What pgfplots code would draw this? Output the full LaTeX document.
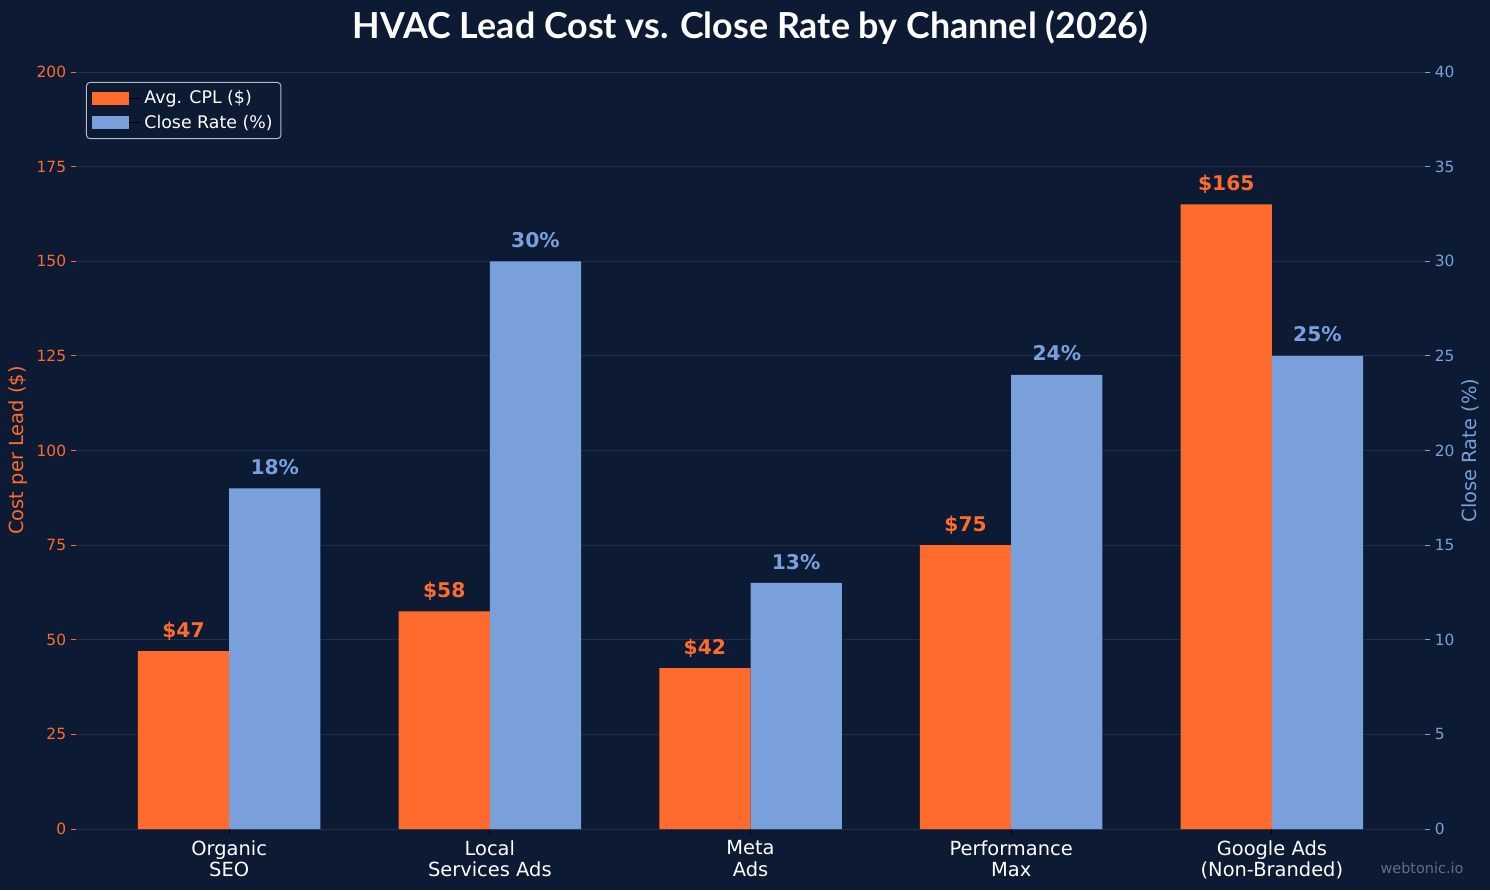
\documentclass[border=0pt]{standalone}
\usepackage{fontspec}
\setmainfont{DejaVu Sans}
\newfontfamily\latofont{Lato}
\usepackage{pgfplots}
\pgfplotsset{compat=1.18}
\definecolor{bg}{HTML}{0C1B33}
\definecolor{cpl}{HTML}{FF6B2C}
\definecolor{cr}{HTML}{79A0DB}
\definecolor{gridc}{HTML}{1F2F48}
\definecolor{legbord}{HTML}{B4BBC6}
\definecolor{wm}{HTML}{5E6E86}
\begin{document}
\begin{tikzpicture}
\fill[bg] (-54.72pt,-43.92pt) rectangle (1018.08pt,596.88pt);
\begin{axis}[
  scale only axis, width=971.28pt, height=545.04pt,
  xmin=-0.5875, xmax=4.5875, ymin=0, ymax=200,
  axis line style={draw=none},
  ybar, bar width=0.35, bar shift=0pt,
  ytick={0,25,...,200},
  xtick={0,1,2,3,4},
  xticklabels={{Organic\\SEO},{Local\\Services Ads},{Meta\\Ads},{Performance\\Max},{Google Ads\\(Non-Branded)}},
  xticklabel style={align=center, text=white, font=\fontsize{14}{15.6}\selectfont, yshift=-1pt},
  yticklabel style={text=cpl, font=\fontsize{11.1}{13}\selectfont},
  /pgf/number format/assume math mode=true,
  xtick pos=left, ytick pos=left,
  tick align=outside, major tick length=3.6pt,
  x tick style={black, line width=0.6pt},
  y tick style={cpl, line width=0.6pt},
  ymajorgrids, grid style={gridc, line width=0.7pt},
  ylabel={Cost per Lead (\$)},
  ylabel style={at={(axis description cs:-0.04304,0.5)}, anchor=center, text=cpl, font=\fontsize{14}{16}\selectfont},
  title={HVAC Lead Cost vs. Close Rate by Channel (2026)},
  title style={at={(axis description cs:0.5,1)}, anchor=base, yshift=17.8pt, text=white, font=\latofont\bfseries\fontsize{25.8}{30}\selectfont},
  legend style={at={(axis description cs:0,1)}, anchor=north west, xshift=7.2pt, yshift=-7.2pt,
    draw=legbord, line width=0.7pt, fill=bg, rounded corners=2.5pt, text=white,
    font=\fontsize{12.5}{14}\selectfont, inner xsep=4pt, inner ysep=3.8pt, row sep=2.8pt},
  legend cell align=left,
]
\addplot[fill=cpl, draw=none, forget plot, nodes near coords, point meta=explicit symbolic,
  nodes near coords style={anchor=base, yshift=10pt, text=cpl, font=\bfseries\fontsize{14.6}{16}\selectfont}]
  coordinates {(-0.175,47) [\$47] (0.825,57.5) [\$58] (1.825,42.5) [\$42] (2.825,75) [\$75] (3.825,165) [\$165]};
\addlegendimage{legend image code/.code={\fill[cpl, sharp corners] (0pt,-4.3pt) rectangle (26pt,4.3pt); \path (26pt,0pt) -- (35pt,0pt);}}
\addlegendentry{Avg. CPL (\$)}
\addlegendimage{legend image code/.code={\fill[cr, sharp corners] (0pt,-4.3pt) rectangle (26pt,4.3pt); \path (26pt,0pt) -- (35pt,0pt);}}
\addlegendentry{Close Rate (\%)}
\end{axis}
\begin{axis}[
  scale only axis, width=971.28pt, height=545.04pt,
  xmin=-0.5875, xmax=4.5875, ymin=0, ymax=40,
  axis line style={draw=none},
  ybar, bar width=0.35, bar shift=0pt,
  ytick={0,5,...,40},
  xtick=\empty,
  ytick pos=right, yticklabel pos=right,
  yticklabel style={text=cr, font=\fontsize{11.1}{13}\selectfont},
  /pgf/number format/assume math mode=true,
  tick align=outside, major tick length=3.6pt,
  y tick style={cr, line width=0.6pt},
  ylabel={Close Rate (\%)},
  ylabel style={at={(axis description cs:1.03336,0.5)}, anchor=center, text=cr, font=\fontsize{14}{16}\selectfont},
]
\addplot[fill=cr, draw=none, nodes near coords, point meta=explicit symbolic,
  nodes near coords style={anchor=base, yshift=10pt, text=cr, font=\bfseries\fontsize{14.6}{16}\selectfont}]
  coordinates {(0.175,18) [18\%] (1.175,30) [30\%] (2.175,13) [13\%] (3.175,24) [24\%] (4.175,25) [25\%]};
\end{axis}
\node[text=wm, font=\fontsize{10.4}{12}\selectfont, anchor=center] at (969.12pt,-28.08pt) {webtonic.io};
\pgfresetboundingbox
\path[use as bounding box] (-54.72pt,-43.92pt) rectangle (1018.08pt,596.88pt);
\end{tikzpicture}
\end{document}
